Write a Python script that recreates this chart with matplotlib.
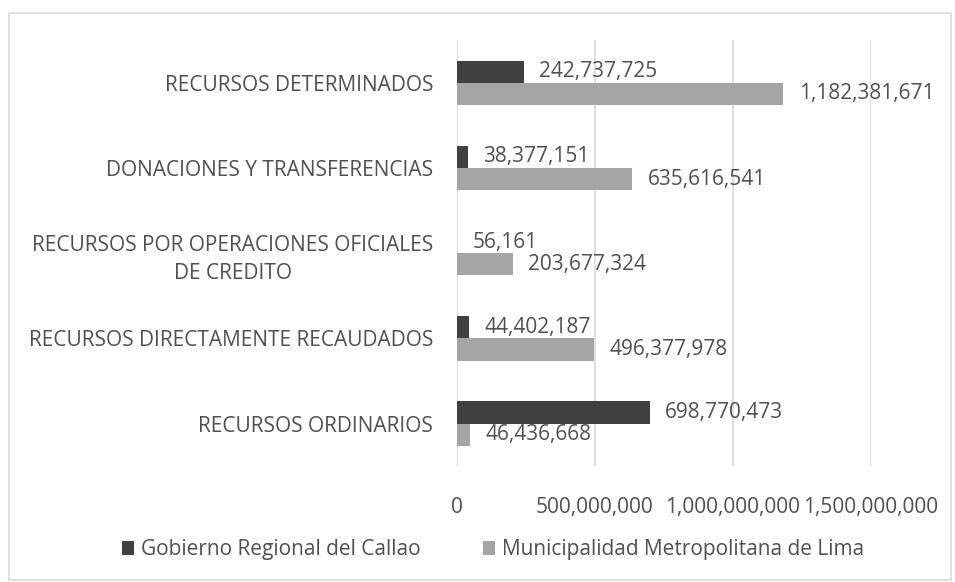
import matplotlib.pyplot as plt
from matplotlib.patches import Rectangle

INK = "#505050"
DARK, LIGHT, GRID = "#404040", "#a5a5a5", "#d9d9d9"

categories = [
    "RECURSOS ORDINARIOS",
    "RECURSOS DIRECTAMENTE RECAUDADOS",
    "RECURSOS POR OPERACIONES OFICIALES\nDE CREDITO",
    "DONACIONES Y TRANSFERENCIAS",
    "RECURSOS DETERMINADOS",
]
callao = [698770473, 44402187, 56161, 38377151, 242737725]
lima = [46436668, 496377978, 203677324, 635616541, 1182381671]
series_names = ["Gobierno Regional del Callao", "Municipalidad Metropolitana de Lima"]
xticks = [0, 500_000_000, 1_000_000_000, 1_500_000_000]

FS = 15
plt.rcParams.update({"font.family": ["Open Sans", "DejaVu Sans"], "font.size": FS,
                     "text.color": INK})

fig = plt.figure(figsize=(9.55, 5.82), dpi=100)
ax = fig.add_axes([0.4785, 0.199, 0.4335, 0.732])

h = 0.26
y = range(len(categories))
b1 = ax.barh([i + h / 2 for i in y], callao, h, color=DARK, label=series_names[0], zorder=2)
b2 = ax.barh([i - h / 2 for i in y], lima, h, color=LIGHT, label=series_names[1], zorder=2)
for bars in (b1, b2):
    ax.bar_label(bars, labels=[f"{v:,}" for v in bars.datavalues], padding=11,
                 fontsize=FS, color=INK)

ax.set_xlim(0, 1_500_000_000)
ax.set_ylim(-0.5, len(categories) - 0.5)
ax.set_xticks(xticks)
ax.set_xticklabels([f"{v:,}" for v in xticks])
ax.set_yticks(list(y))
ax.set_yticklabels(categories, multialignment="center", linespacing=1.45)
ax.tick_params(length=0, colors=INK, labelsize=FS)
ax.tick_params(axis="x", pad=22)
ax.tick_params(axis="y", pad=17)
ax.grid(axis="x", color=GRID, linewidth=1.2, zorder=0)
ax.set_axisbelow(True)
for s in ax.spines.values():
    s.set_visible(False)

fig.legend(handles=[b1, b2], loc="lower center", bbox_to_anchor=(0.516, 0.005), ncol=2,
           frameon=False, fontsize=FS, handlelength=0.6, handleheight=0.6,
           handletextpad=0.3, columnspacing=3.0, labelcolor=INK)

fig.patches.append(Rectangle((0.0095, 0.003), 0.986, 0.975, transform=fig.transFigure,
                             fill=False, edgecolor=GRID, linewidth=1.2))

fig.savefig("out.png", dpi=100)
